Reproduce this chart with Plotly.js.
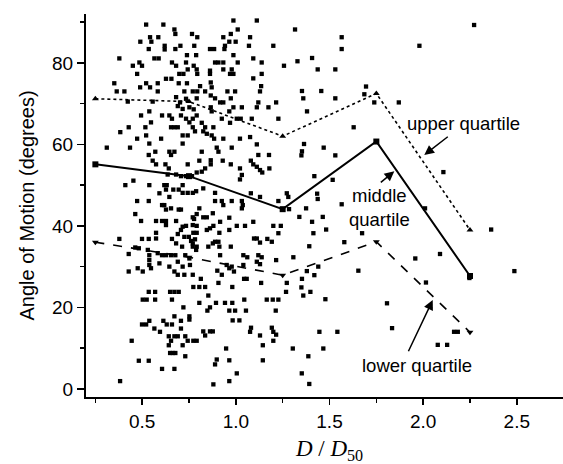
<!DOCTYPE html>
<html>
<head>
<meta charset="utf-8">
<script src="https://cdn.plot.ly/plotly-3.0.1.min.js"></script>
<style>
html,body{margin:0;padding:0;background:#fff;overflow:hidden;width:563px;height:464px;}
#wrap{width:563px;height:464px;overflow:hidden;position:relative;}
#plot{width:576px;height:464px;}
</style>
</head>
<body>
<div id="wrap"><div id="plot"></div></div>
<script>
// ---- bin centres and quartile curves ----
const binCenters = [0.25, 0.75, 1.25, 1.75, 2.25];
const upperQuartile  = [71.2, 70.5, 62.0, 72.5, 39.0];
const middleQuartile = [55.1, 52.2, 44.1, 60.7, 27.7];
const lowerQuartile  = [36.0, 32.3, 27.9, 36.1, 13.9];

// ---- individual measurements (D/D50, angle in degrees) ----
const ptsX_a = [0.521,0.613,0.672,0.677,0.766,0.542,0.586,0.490,0.549,0.620,0.620,0.704,0.778,0.535,0.677,0.739,0.378,0.565,0.588,0.485,0.659,0.734,0.450,0.499,0.681,0.775,0.743,0.473,0.698,0.720,0.627,0.656,0.351,0.521,0.583,0.695,0.739,0.489,0.542,0.364,0.405,0.583,0.725,0.770,0.681,0.734,0.423,0.556,0.702,0.690,0.716,0.752,0.775,0.538,0.494,0.606,0.645,0.707,0.659,0.734,0.770,0.547,0.752,0.428,0.517,0.654,0.672,0.690,0.770,0.383,0.521,0.473,0.601,0.716,0.743];
const ptsY_a = [89.4,89.4,88.2,87.1,87.1,86.3,86.3,85.2,85.2,84.2,83.3,84.2,84.2,83.4,83.4,81.9,81.1,81.1,81.1,80.1,80.1,80.1,79.3,79.3,79.3,79.3,78.4,77.3,77.3,77.3,76.1,76.1,75.0,75.0,75.0,75.0,75.0,74.0,74.0,73.0,73.0,73.0,73.0,73.0,71.6,71.2,70.5,70.5,70.3,69.4,68.7,69.1,68.6,68.1,67.1,67.1,67.1,67.1,66.3,66.3,66.3,65.4,65.4,64.2,64.2,64.2,64.2,64.2,64.2,63.0,62.2,61.4,61.4,62.2,62.2];

const ptsX_b = [0.987,1.112,1.010,1.316,0.794,0.933,0.973,1.076,0.965,0.999,0.942,1.070,1.200,0.862,0.884,0.939,0.788,0.987,1.093,1.329,0.889,0.907,0.933,1.010,1.138,1.257,0.791,0.862,0.862,0.933,0.978,0.969,0.987,0.794,1.138,1.093,0.866,0.871,0.809,0.794,0.836,0.955,0.996,1.129,1.135,0.866,0.889,0.791,0.916,0.933,0.973,1.120,1.215,0.866,0.871,0.987,1.032,1.112,1.174,0.965,0.791,0.925,1.005,1.026,1.085,1.227,0.818,0.836,0.969,0.880,0.782,0.826,0.845,0.871,0.884,0.933,1.022,1.076];
const ptsY_b = [90.4,90.4,88.2,88.2,86.3,86.3,87.1,86.3,85.2,85.2,84.2,84.2,84.2,83.4,83.4,83.4,81.9,81.9,81.1,80.4,80.1,80.1,80.1,80.1,80.1,79.3,78.4,78.1,77.3,78.4,78.4,77.3,77.3,77.3,77.3,76.2,75.2,74.0,74.3,73.0,73.0,73.0,73.0,73.0,74.3,72.0,71.3,71.3,70.3,70.3,71.3,70.3,70.3,69.1,68.1,69.1,69.1,69.1,69.1,68.1,67.1,66.3,66.3,66.3,66.3,66.3,65.3,64.2,65.3,64.2,63.2,63.2,62.6,62.2,61.4,61.4,61.4,61.8];

const ptsX_c = [0.311,0.435,0.538,0.716,0.570,0.535,0.645,0.672,0.654,0.556,0.574,0.624,0.743,0.642,0.636,0.681,0.707,0.734,0.766,0.410,0.453,0.538,0.618,0.631,0.627,0.666,0.695,0.716,0.592,0.645,0.716,0.743,0.770,0.473,0.535,0.606,0.618,0.627,0.654,0.695,0.707,0.463,0.770,0.494,0.574,0.606,0.627,0.627,0.681,0.707,0.734,0.716,0.690,0.770,0.574,0.378,0.499,0.535,0.574,0.659,0.681,0.725,0.749,0.713,0.761,0.770,0.463,0.482,0.428,0.530,0.538,0.538,0.538,0.583,0.606,0.627,0.654,0.677,0.730,0.752,0.592,0.645,0.690,0.716,0.755,0.476,0.547];
const ptsY_c = [59.2,59.2,60.2,60.2,58.2,57.4,58.2,58.2,57.4,56.0,55.1,55.1,55.1,54.1,52.6,52.6,52.2,52.2,52.2,50.0,51.1,50.0,50.0,50.0,48.9,48.9,48.9,50.0,48.0,47.1,48.1,48.1,48.1,46.1,46.1,45.1,45.1,44.0,44.3,44.0,44.0,42.9,42.1,41.2,41.2,41.2,41.2,40.2,41.2,39.0,40.0,39.8,38.0,40.2,38.3,36.8,36.8,36.8,36.9,36.8,35.7,37.3,37.3,34.9,36.3,35.7,34.7,34.5,33.1,34.1,32.8,31.6,30.4,33.3,32.8,32.8,32.8,32.8,32.8,32.0,30.8,30.0,31.2,30.0,30.4,29.6,29.6];

const ptsX_d = [1.112,0.818,0.898,0.907,0.978,1.120,1.177,0.805,0.866,0.866,0.930,0.973,1.080,1.093,1.112,1.129,1.141,1.179,0.836,0.818,0.791,1.022,1.032,1.022,0.788,0.826,0.889,0.889,0.925,0.933,0.978,1.032,1.037,1.032,1.080,1.129,1.227,1.272,1.280,1.284,0.805,0.791,0.826,0.845,0.877,0.777,0.916,0.965,1.093,0.791,0.845,0.862,0.880,1.005,1.049,1.200,1.240,0.773,0.791,0.912,0.965,1.097,1.112,1.168,1.192,1.227,1.129,0.782,0.770,0.791,0.853,0.877,0.889,0.907,0.912,0.973,0.788,0.916,1.040,1.061,1.120,1.138,1.112,1.129,1.215,1.307,0.951,0.965,0.978,1.040];
const ptsY_d = [60.0,58.2,59.2,58.2,59.2,57.4,57.4,56.0,56.1,55.1,56.0,55.1,56.0,55.1,54.5,53.7,53.1,54.1,54.1,53.3,53.1,54.1,52.5,51.4,48.5,49.2,48.1,46.1,46.1,45.1,46.1,46.1,45.1,44.3,48.0,47.1,46.1,48.0,47.1,44.1,44.3,42.9,42.1,42.1,43.1,41.7,41.0,42.0,41.0,40.0,39.0,39.4,40.0,40.0,40.0,40.0,40.0,38.3,38.3,38.3,39.0,36.9,36.9,36.8,36.1,38.2,35.9,36.7,34.9,34.9,34.9,35.7,36.1,36.1,34.9,34.9,34.1,32.8,32.8,32.3,32.8,32.3,31.2,30.6,31.6,32.3,30.4,29.6,30.0,30.4];

const ptsX_e = [0.428,0.503,0.672,0.690,0.725,0.770,0.773,0.535,0.569,0.649,0.672,0.695,0.503,0.524,0.569,0.659,0.720,0.672,0.752,0.752,0.538,0.499,0.521,0.613,0.631,0.659,0.707,0.565,0.707,0.595,0.642,0.672,0.690,0.730,0.444,0.654,0.743,0.773,0.642,0.716,0.649,0.663,0.677,0.730,0.482,0.535,0.606,0.672,0.382];
const ptsY_e = [28.8,28.8,28.8,28.0,28.0,28.0,25.0,23.8,23.8,23.8,23.8,23.8,21.9,21.9,21.9,21.9,20.0,17.8,17.8,17.0,16.7,15.8,15.8,16.7,15.8,15.8,16.7,14.8,14.8,14.0,12.9,12.9,12.9,12.9,11.8,11.8,11.8,11.8,10.7,10.7,8.8,8.8,8.8,8.0,6.9,6.9,4.9,4.9,1.9];

const ptsX_f = [0.813,0.901,0.925,0.990,1.044,1.058,0.805,0.836,0.907,0.981,1.135,1.272,1.268,0.853,1.045,1.165,1.197,1.227,0.805,0.894,0.942,0.981,0.862,0.848,0.965,0.996,1.054,1.213,0.983,1.019,1.081,1.076,1.192,1.200,1.215,0.826,0.836,0.862,0.877,1.129,0.791,1.200,1.144,1.304,0.948,0.898,0.889,0.965,1.144,1.005,0.965,0.880];
const ptsY_f = [27.0,29.0,28.0,28.8,27.0,27.0,25.0,25.0,26.0,25.0,26.0,26.0,23.8,22.9,21.9,21.9,21.9,21.9,21.1,21.1,21.1,21.1,20.0,19.2,19.2,19.2,19.2,19.2,16.8,16.8,15.0,14.0,15.0,14.0,13.3,14.1,13.1,14.1,14.1,13.1,11.8,11.8,10.7,9.9,9.9,7.2,6.0,7.0,7.0,3.8,1.9,1.1];

const ptsX_g = [1.565,1.565,2.272,1.980,1.407,1.437,1.531,1.695,1.353,1.456,1.686,1.360,1.531,1.739,1.870,1.380,1.629,1.364,1.353,1.350,1.469,1.531,2.108,1.419,1.517,1.434,1.437,1.565,1.375,1.339,1.464,1.407,1.482,1.414,1.674,2.010,2.363,1.579,1.392,2.090,1.958,2.247,2.487,1.654,1.379,1.440,1.419,1.353,1.350,1.360,1.398,1.478,2.015,1.807,1.834,1.446,1.542,2.165,2.185,1.467,2.078,2.128,1.387,1.352,1.392];
const ptsY_g = [86.3,83.4,89.3,84.2,81.2,78.4,78.4,74.2,73.1,73.1,72.3,71.3,71.3,70.3,70.3,68.1,64.2,60.1,58.3,57.3,59.2,57.3,53.2,52.2,51.3,47.9,46.6,45.3,44.3,42.2,42.2,41.0,39.1,38.2,38.2,44.3,39.1,36.0,35.0,33.1,32.0,27.2,28.9,29.0,28.9,30.0,27.9,27.0,24.9,22.9,23.8,22.0,26.1,21.0,14.9,14.0,14.0,14.0,14.0,9.9,10.8,10.8,8.0,3.8,1.2];

// ---- axis ticks ----
const xTickVals = [0.5, 1.0, 1.5, 2.0, 2.5];
const xTickText = ['0.5', '1.0', '1.5', '2.0', '2.5'];
const yTickVals = [0, 20, 40, 60, 80];
const yTickText = ['0', '20', '40', '60', '80'];

function pairUp(xs, ys, outX, outY) {
  const n = Math.min(xs.length, ys.length);
  for (let i = 0; i < n; i++) { outX.push(xs[i]); outY.push(ys[i]); }
}
const allX = [], allY = [];
pairUp(ptsX_a, ptsY_a, allX, allY);
pairUp(ptsX_b, ptsY_b, allX, allY);
pairUp(ptsX_c, ptsY_c, allX, allY);
pairUp(ptsX_d, ptsY_d, allX, allY);
pairUp(ptsX_e, ptsY_e, allX, allY);
pairUp(ptsX_f, ptsY_f, allX, allY);
pairUp(ptsX_g, ptsY_g, allX, allY);

const sansFont = 'Liberation Sans, Arial, Helvetica, sans-serif';

const traces = [
  { x: allX, y: allY, type: 'scatter', mode: 'markers', name: 'data',
    marker: { symbol: 'square', size: 4.3, color: '#000', line: { width: 0 } } },
  { x: binCenters, y: upperQuartile, type: 'scatter', mode: 'lines+markers', name: 'upper quartile',
    line: { color: '#000', width: 1.6, dash: 'dot' },
    marker: { symbol: 'triangle-up', size: 6, color: '#000' } },
  { x: binCenters, y: middleQuartile, type: 'scatter', mode: 'lines+markers', name: 'middle quartile',
    line: { color: '#000', width: 2 },
    marker: { symbol: 'square', size: 6, color: '#000' } },
  { x: binCenters, y: lowerQuartile, type: 'scatter', mode: 'lines+markers', name: 'lower quartile',
    line: { color: '#000', width: 1.6, dash: 'dash' },
    marker: { symbol: 'triangle-down', size: 6, color: '#000' } }
];

const annFont = { family: sansFont, size: 18.5, color: '#000' };
function arrowAnn(x, y, ax, ay) {
  return { x: x, y: y, xref: 'x', yref: 'y', ax: ax, ay: ay, axref: 'pixel', ayref: 'pixel',
    text: '', showarrow: true, arrowhead: 2, arrowsize: 1.3, arrowwidth: 1.5, arrowcolor: '#000' };
}

const layout = {
  width: 576, height: 464,
  margin: { l: 86, r: 3, t: 14, b: 67, pad: 0 },
  paper_bgcolor: '#fff', plot_bgcolor: '#fff',
  showlegend: false,
  font: { family: sansFont, color: '#000' },
  xaxis: {
    range: [0.2, 2.8], showgrid: false, zeroline: false,
    showline: true, linecolor: '#000', linewidth: 2,
    ticks: 'outside', ticklen: 6, tickwidth: 1.5, tickcolor: '#000',
    tickvals: xTickVals, ticktext: xTickText,
    tickfont: { family: sansFont, size: 19, color: '#000' },
    minor: { tickvals: [0.25, 0.75, 1.25, 1.75, 2.25, 2.75], ticks: 'outside', ticklen: 4, tickwidth: 1.5, tickcolor: '#000' },
    title: { text: '<i>D</i> / <i>D</i><sub>50</sub>', standoff: 10,
      font: { family: 'Liberation Serif, Times New Roman, serif', size: 23, color: '#000' } }
  },
  yaxis: {
    range: [-2, 92], showgrid: false, zeroline: false,
    showline: true, linecolor: '#000', linewidth: 2,
    ticks: 'outside', ticklen: 7, tickwidth: 1.5, tickcolor: '#000',
    tickvals: yTickVals, ticktext: yTickText,
    tickfont: { family: sansFont, size: 19, color: '#000' },
    minor: { tickvals: [10, 30, 50, 70, 90], ticks: 'outside', ticklen: 4, tickwidth: 1.5, tickcolor: '#000' },
    title: { text: 'Angle of Motion (degrees)', standoff: 12,
      font: { family: sansFont, size: 20, color: '#000' } }
  },
  annotations: [
    { x: 2.218, y: 65.2, xref: 'x', yref: 'y', text: 'upper quartile', showarrow: false, font: annFont },
    arrowAnn(2.006, 57.4, 25, -19.4),
    { x: 1.765, y: 44.5, xref: 'x', yref: 'y', text: 'middle<br>quartile', showarrow: false, font: annFont },
    arrowAnn(1.846, 53.4, -15, 12.4),
    { x: 1.965, y: 5.8, xref: 'x', yref: 'y', text: 'lower quartile', showarrow: false, font: annFont },
    arrowAnn(2.051, 21.8, -25, 52.7)
  ]
};

Plotly.newPlot('plot', traces, layout, { staticPlot: true, displayModeBar: false });
</script>
</body>
</html>
